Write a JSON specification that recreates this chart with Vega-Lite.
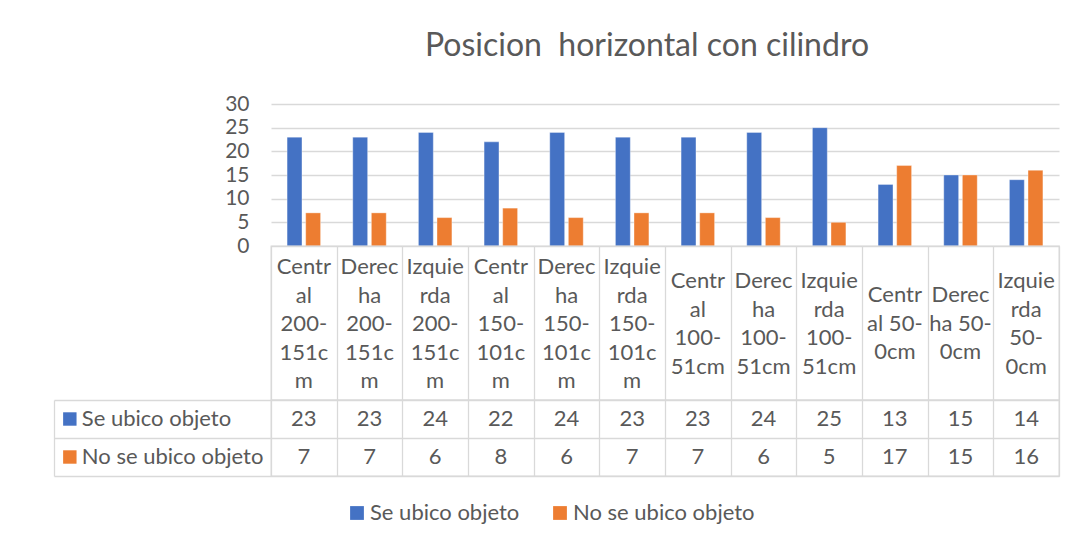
{
  "$schema": "https://vega.github.io/schema/vega-lite/v6.json",
  "padding": {"left": 52, "top": 30, "right": 10, "bottom": 10},
  "spacing": 0,
  "bounds": "flush",
  "config": {
    "font": "Lato",
    "view": {"stroke": null},
    "axis": {"labelFont": "Lato", "labelColor": "#595959"},
    "legend": {"labelFont": "Lato"}
  },
  "datasets": {
    "categorias": [
      {"posicion": "Central 200-151cm", "lineas": ["Centr", "al", "200-", "151c", "m"]},
      {"posicion": "Derecha 200-151cm", "lineas": ["Derec", "ha", "200-", "151c", "m"]},
      {"posicion": "Izquierda 200-151cm", "lineas": ["Izquie", "rda", "200-", "151c", "m"]},
      {"posicion": "Central 150-101cm", "lineas": ["Centr", "al", "150-", "101c", "m"]},
      {"posicion": "Derecha 150-101cm", "lineas": ["Derec", "ha", "150-", "101c", "m"]},
      {"posicion": "Izquierda 150-101cm", "lineas": ["Izquie", "rda", "150-", "101c", "m"]},
      {"posicion": "Central 100-51cm", "lineas": ["Centr", "al", "100-", "51cm"]},
      {"posicion": "Derecha 100-51cm", "lineas": ["Derec", "ha", "100-", "51cm"]},
      {"posicion": "Izquierda 100-51cm", "lineas": ["Izquie", "rda", "100-", "51cm"]},
      {"posicion": "Central 50-0cm", "lineas": ["Centr", "al 50-", "0cm"]},
      {"posicion": "Derecha 50-0cm", "lineas": ["Derec", "ha 50-", "0cm"]},
      {"posicion": "Izquierda 50-0cm", "lineas": ["Izquie", "rda", "50-", "0cm"]}
    ],
    "conteo": [
      {"posicion": "Central 200-151cm", "serie": "Se ubico objeto", "valor": 23},
      {"posicion": "Derecha 200-151cm", "serie": "Se ubico objeto", "valor": 23},
      {"posicion": "Izquierda 200-151cm", "serie": "Se ubico objeto", "valor": 24},
      {"posicion": "Central 150-101cm", "serie": "Se ubico objeto", "valor": 22},
      {"posicion": "Derecha 150-101cm", "serie": "Se ubico objeto", "valor": 24},
      {"posicion": "Izquierda 150-101cm", "serie": "Se ubico objeto", "valor": 23},
      {"posicion": "Central 100-51cm", "serie": "Se ubico objeto", "valor": 23},
      {"posicion": "Derecha 100-51cm", "serie": "Se ubico objeto", "valor": 24},
      {"posicion": "Izquierda 100-51cm", "serie": "Se ubico objeto", "valor": 25},
      {"posicion": "Central 50-0cm", "serie": "Se ubico objeto", "valor": 13},
      {"posicion": "Derecha 50-0cm", "serie": "Se ubico objeto", "valor": 15},
      {"posicion": "Izquierda 50-0cm", "serie": "Se ubico objeto", "valor": 14},
      {"posicion": "Central 200-151cm", "serie": "No se ubico objeto", "valor": 7},
      {"posicion": "Derecha 200-151cm", "serie": "No se ubico objeto", "valor": 7},
      {"posicion": "Izquierda 200-151cm", "serie": "No se ubico objeto", "valor": 6},
      {"posicion": "Central 150-101cm", "serie": "No se ubico objeto", "valor": 8},
      {"posicion": "Derecha 150-101cm", "serie": "No se ubico objeto", "valor": 6},
      {"posicion": "Izquierda 150-101cm", "serie": "No se ubico objeto", "valor": 7},
      {"posicion": "Central 100-51cm", "serie": "No se ubico objeto", "valor": 7},
      {"posicion": "Derecha 100-51cm", "serie": "No se ubico objeto", "valor": 6},
      {"posicion": "Izquierda 100-51cm", "serie": "No se ubico objeto", "valor": 5},
      {"posicion": "Central 50-0cm", "serie": "No se ubico objeto", "valor": 17},
      {"posicion": "Derecha 50-0cm", "serie": "No se ubico objeto", "valor": 15},
      {"posicion": "Izquierda 50-0cm", "serie": "No se ubico objeto", "valor": 16}
    ]
  },
  "vconcat": [
    {
      "title": {
        "text": "Posicion\u00a0 horizontal con cilindro",
        "fontSize": 32,
        "font": "Lato",
        "fontWeight": "normal",
        "color": "#595959",
        "anchor": "middle",
        "frame": "group",
        "dx": -18,
        "offset": 30
      },
      "data": {"name": "conteo"},
      "width": 788,
      "height": 142,
      "mark": {"type": "bar", "stroke": "white", "strokeOpacity": 0.5, "strokeWidth": 0.7},
      "encoding": {
        "x": {
          "field": "posicion",
          "type": "nominal",
          "sort": ["Central 200-151cm", "Derecha 200-151cm", "Izquierda 200-151cm", "Central 150-101cm", "Derecha 150-101cm", "Izquierda 150-101cm", "Central 100-51cm", "Derecha 100-51cm", "Izquierda 100-51cm", "Central 50-0cm", "Derecha 50-0cm", "Izquierda 50-0cm"],
          "axis": null,
          "scale": {"paddingInner": 0.49, "paddingOuter": 0.245}
        },
        "xOffset": {
          "field": "serie",
          "type": "nominal",
          "sort": ["Se ubico objeto", "No se ubico objeto"],
          "scale": {"paddingInner": 0.2}
        },
        "y": {
          "field": "valor",
          "type": "quantitative",
          "scale": {"domain": [0, 30]},
          "axis": {
            "values": [0, 5, 10, 15, 20, 25, 30],
            "title": null,
            "domain": false,
            "ticks": false,
            "grid": true,
            "gridColor": "#d9d9d9",
            "gridWidth": 1.3,
            "labelFontSize": 21,
            "labelPadding": 22
          }
        },
        "color": {
          "field": "serie",
          "type": "nominal",
          "scale": {"domain": ["Se ubico objeto", "No se ubico objeto"], "range": ["#4472C4", "#ED7D31"]},
          "legend": {
            "title": null,
            "orient": "none",
            "legendX": 75,
            "legendY": 398,
            "direction": "horizontal",
            "symbolType": "square",
            "symbolSize": 190,
            "symbolStrokeWidth": 0,
            "labelFontSize": 22,
            "labelColor": "#595959",
            "labelLimit": 400,
            "labelOffset": 2,
            "columnPadding": 29
          }
        }
      }
    },
    {
      "data": {"name": "categorias"},
      "width": 788,
      "height": 154,
      "view": {"stroke": "#d9d9d9", "strokeWidth": 1.3},
      "encoding": {
        "x": {
          "field": "posicion",
          "type": "nominal",
          "sort": ["Central 200-151cm", "Derecha 200-151cm", "Izquierda 200-151cm", "Central 150-101cm", "Derecha 150-101cm", "Izquierda 150-101cm", "Central 100-51cm", "Derecha 100-51cm", "Izquierda 100-51cm", "Central 50-0cm", "Derecha 50-0cm", "Izquierda 50-0cm"],
          "scale": {"paddingInner": 0, "paddingOuter": 0},
          "axis": {
            "title": null,
            "labels": false,
            "ticks": false,
            "domain": false,
            "grid": true,
            "tickBand": "extent",
            "gridColor": "#d9d9d9",
            "gridWidth": 1.3
          }
        },
        "text": {"field": "lineas"}
      },
      "layer": [
        {
          "transform": [{"filter": "length(datum.lineas) == 5"}],
          "mark": {"type": "text", "fontSize": 22, "color": "#595959", "lineHeight": 28.5, "baseline": "middle", "dy": -56}
        },
        {
          "transform": [{"filter": "length(datum.lineas) == 4"}],
          "mark": {"type": "text", "fontSize": 22, "color": "#595959", "lineHeight": 28.5, "baseline": "middle", "dy": -42}
        },
        {
          "transform": [{"filter": "length(datum.lineas) == 3"}],
          "mark": {"type": "text", "fontSize": 22, "color": "#595959", "lineHeight": 28.5, "baseline": "middle", "dy": -28}
        }
      ]
    },
    {
      "data": {"name": "conteo"},
      "width": 788,
      "height": 76,
      "view": {"stroke": "#d9d9d9", "strokeWidth": 1.3},
      "encoding": {
        "x": {
          "field": "posicion",
          "type": "nominal",
          "sort": ["Central 200-151cm", "Derecha 200-151cm", "Izquierda 200-151cm", "Central 150-101cm", "Derecha 150-101cm", "Izquierda 150-101cm", "Central 100-51cm", "Derecha 100-51cm", "Izquierda 100-51cm", "Central 50-0cm", "Derecha 50-0cm", "Izquierda 50-0cm"],
          "scale": {"paddingInner": 0, "paddingOuter": 0},
          "axis": {
            "title": null,
            "labels": false,
            "ticks": false,
            "domain": false,
            "grid": true,
            "tickBand": "extent",
            "gridColor": "#d9d9d9",
            "gridWidth": 1.3
          }
        },
        "y": {
          "field": "serie",
          "type": "nominal",
          "sort": ["Se ubico objeto", "No se ubico objeto"],
          "scale": {"paddingInner": 0, "paddingOuter": 0},
          "axis": {
            "title": null,
            "labels": false,
            "grid": false,
            "offset": 217,
            "domain": true,
            "domainColor": "#d9d9d9",
            "domainWidth": 1.3,
            "ticks": true,
            "tickBand": "extent",
            "tickSize": -1005,
            "tickColor": "#d9d9d9",
            "tickWidth": 1.3
          }
        }
      },
      "layer": [
        {
          "mark": {"type": "text", "fontSize": 22, "color": "#595959"},
          "encoding": {"text": {"field": "valor", "type": "quantitative"}}
        },
        {
          "transform": [{"filter": "datum.posicion == 'Central 200-151cm'"}],
          "mark": {"type": "text", "fontSize": 22, "color": "#595959", "align": "left", "dx": -222},
          "encoding": {"text": {"field": "serie", "type": "nominal"}}
        },
        {
          "transform": [{"filter": "datum.posicion == 'Central 200-151cm'"}],
          "mark": {"type": "point", "shape": "square", "filled": true, "size": 180, "opacity": 1, "xOffset": -234},
          "encoding": {
            "color": {
              "field": "serie",
              "type": "nominal",
              "scale": {"domain": ["Se ubico objeto", "No se ubico objeto"], "range": ["#4472C4", "#ED7D31"]}
            }
          }
        }
      ]
    }
  ]
}
